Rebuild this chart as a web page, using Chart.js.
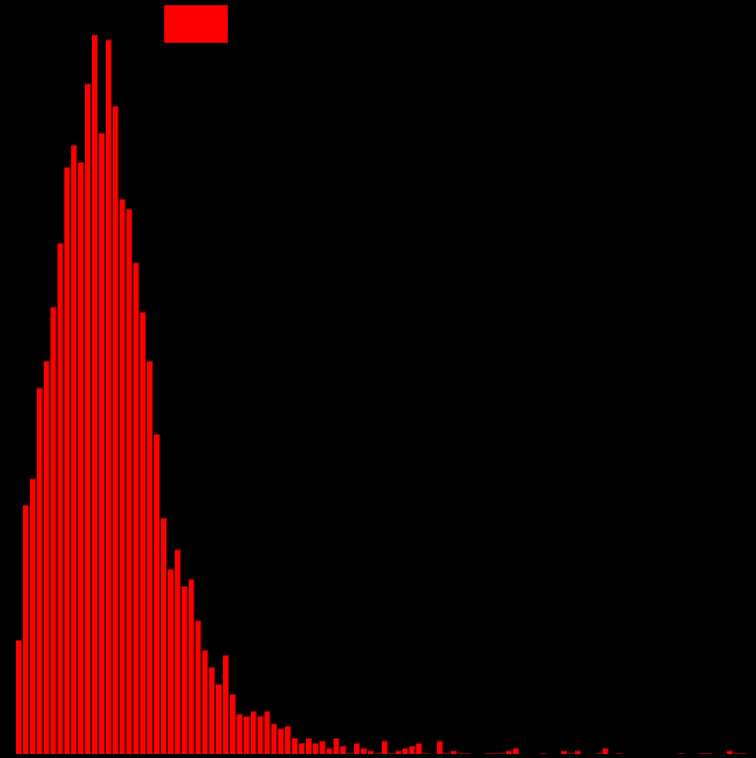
<!DOCTYPE html>
<html>
<head>
<meta charset="utf-8">
<style>
  html, body { margin: 0; padding: 0; background: #000; }
  #wrap { width: 756px; height: 758px; position: relative; }
</style>
<script src="https://cdn.jsdelivr.net/npm/chart.js@4"></script>
</head>
<body>
<div id="wrap"><canvas id="hist"></canvas></div>
<script>
// Counts per bin (106 bins, left to right)
const counts = [
  47, 102, 113, 150, 161, 183, 209, 240, 249, 242,
  274, 294, 254, 292, 265, 227, 223, 201, 181, 161,
  131, 97, 76, 84, 69, 72, 55, 43, 36, 29,
  41, 25, 17, 16, 18, 16, 18, 13, 11, 12,
  7, 5, 7, 5, 6, 3, 7, 4, 1, 5,
  3, 2, 1, 6, 1, 2, 3, 4, 5, 1,
  0, 6, 1, 2, 1, 1, 0, 0, 1, 1,
  1, 2, 3, 0, 0, 0, 1, 0, 0, 2,
  1, 2, 0, 0, 1, 3, 0, 1, 0, 0,
  0, 0, 0, 0, 0, 0, 1, 0, 0, 1,
  1, 0, 0, 2, 1, 1
];

// Bin numbers used as category labels (not drawn)
const bins = counts.map((_, i) => String(i + 1));

// Value-axis range
const yMin = 0.5;
const yMax = 308;

const barFill = '#ff0000';
const barEdge = '#8b0000';

// Draws the single series key box in the upper part of the plot
const seriesKey = {
  id: 'seriesKey',
  afterDraw(chart, args, opts) {
    const ds = chart.data.datasets[0];
    const ctx = chart.ctx;
    ctx.save();
    ctx.fillStyle = ds.backgroundColor;
    ctx.fillRect(opts.x, opts.y, opts.w, opts.h);
    ctx.strokeStyle = ds.borderColor;
    ctx.globalAlpha = 0.5;
    ctx.lineWidth = 1;
    ctx.strokeRect(opts.x + 0.5, opts.y + 0.5, opts.w - 1, opts.h - 1);
    ctx.restore();
  }
};

new Chart(document.getElementById('hist'), {
  type: 'bar',
  data: {
    labels: bins,
    datasets: [{
      label: '',
      data: counts,
      backgroundColor: barFill,
      borderColor: barEdge,
      borderWidth: { top: 1, right: 1, left: 0, bottom: 0 },
      borderSkipped: false,
      inflateAmount: 0,
      barPercentage: 0.92,
      categoryPercentage: 1.0,
      clip: 0
    }]
  },
  options: {
    responsive: true,
    maintainAspectRatio: false,
    animation: false,
    events: [],
    layout: { padding: { left: 15.6, right: 9, top: 0, bottom: 4 } },
    scales: {
      x: { display: false, grid: { display: false } },
      y: { display: false, min: yMin, max: yMax, grid: { display: false } }
    },
    plugins: {
      legend: { display: false },
      tooltip: { enabled: false },
      seriesKey: { x: 164, y: 5, w: 64, h: 38 }
    }
  },
  plugins: [seriesKey]
});
</script>
</body>
</html>
